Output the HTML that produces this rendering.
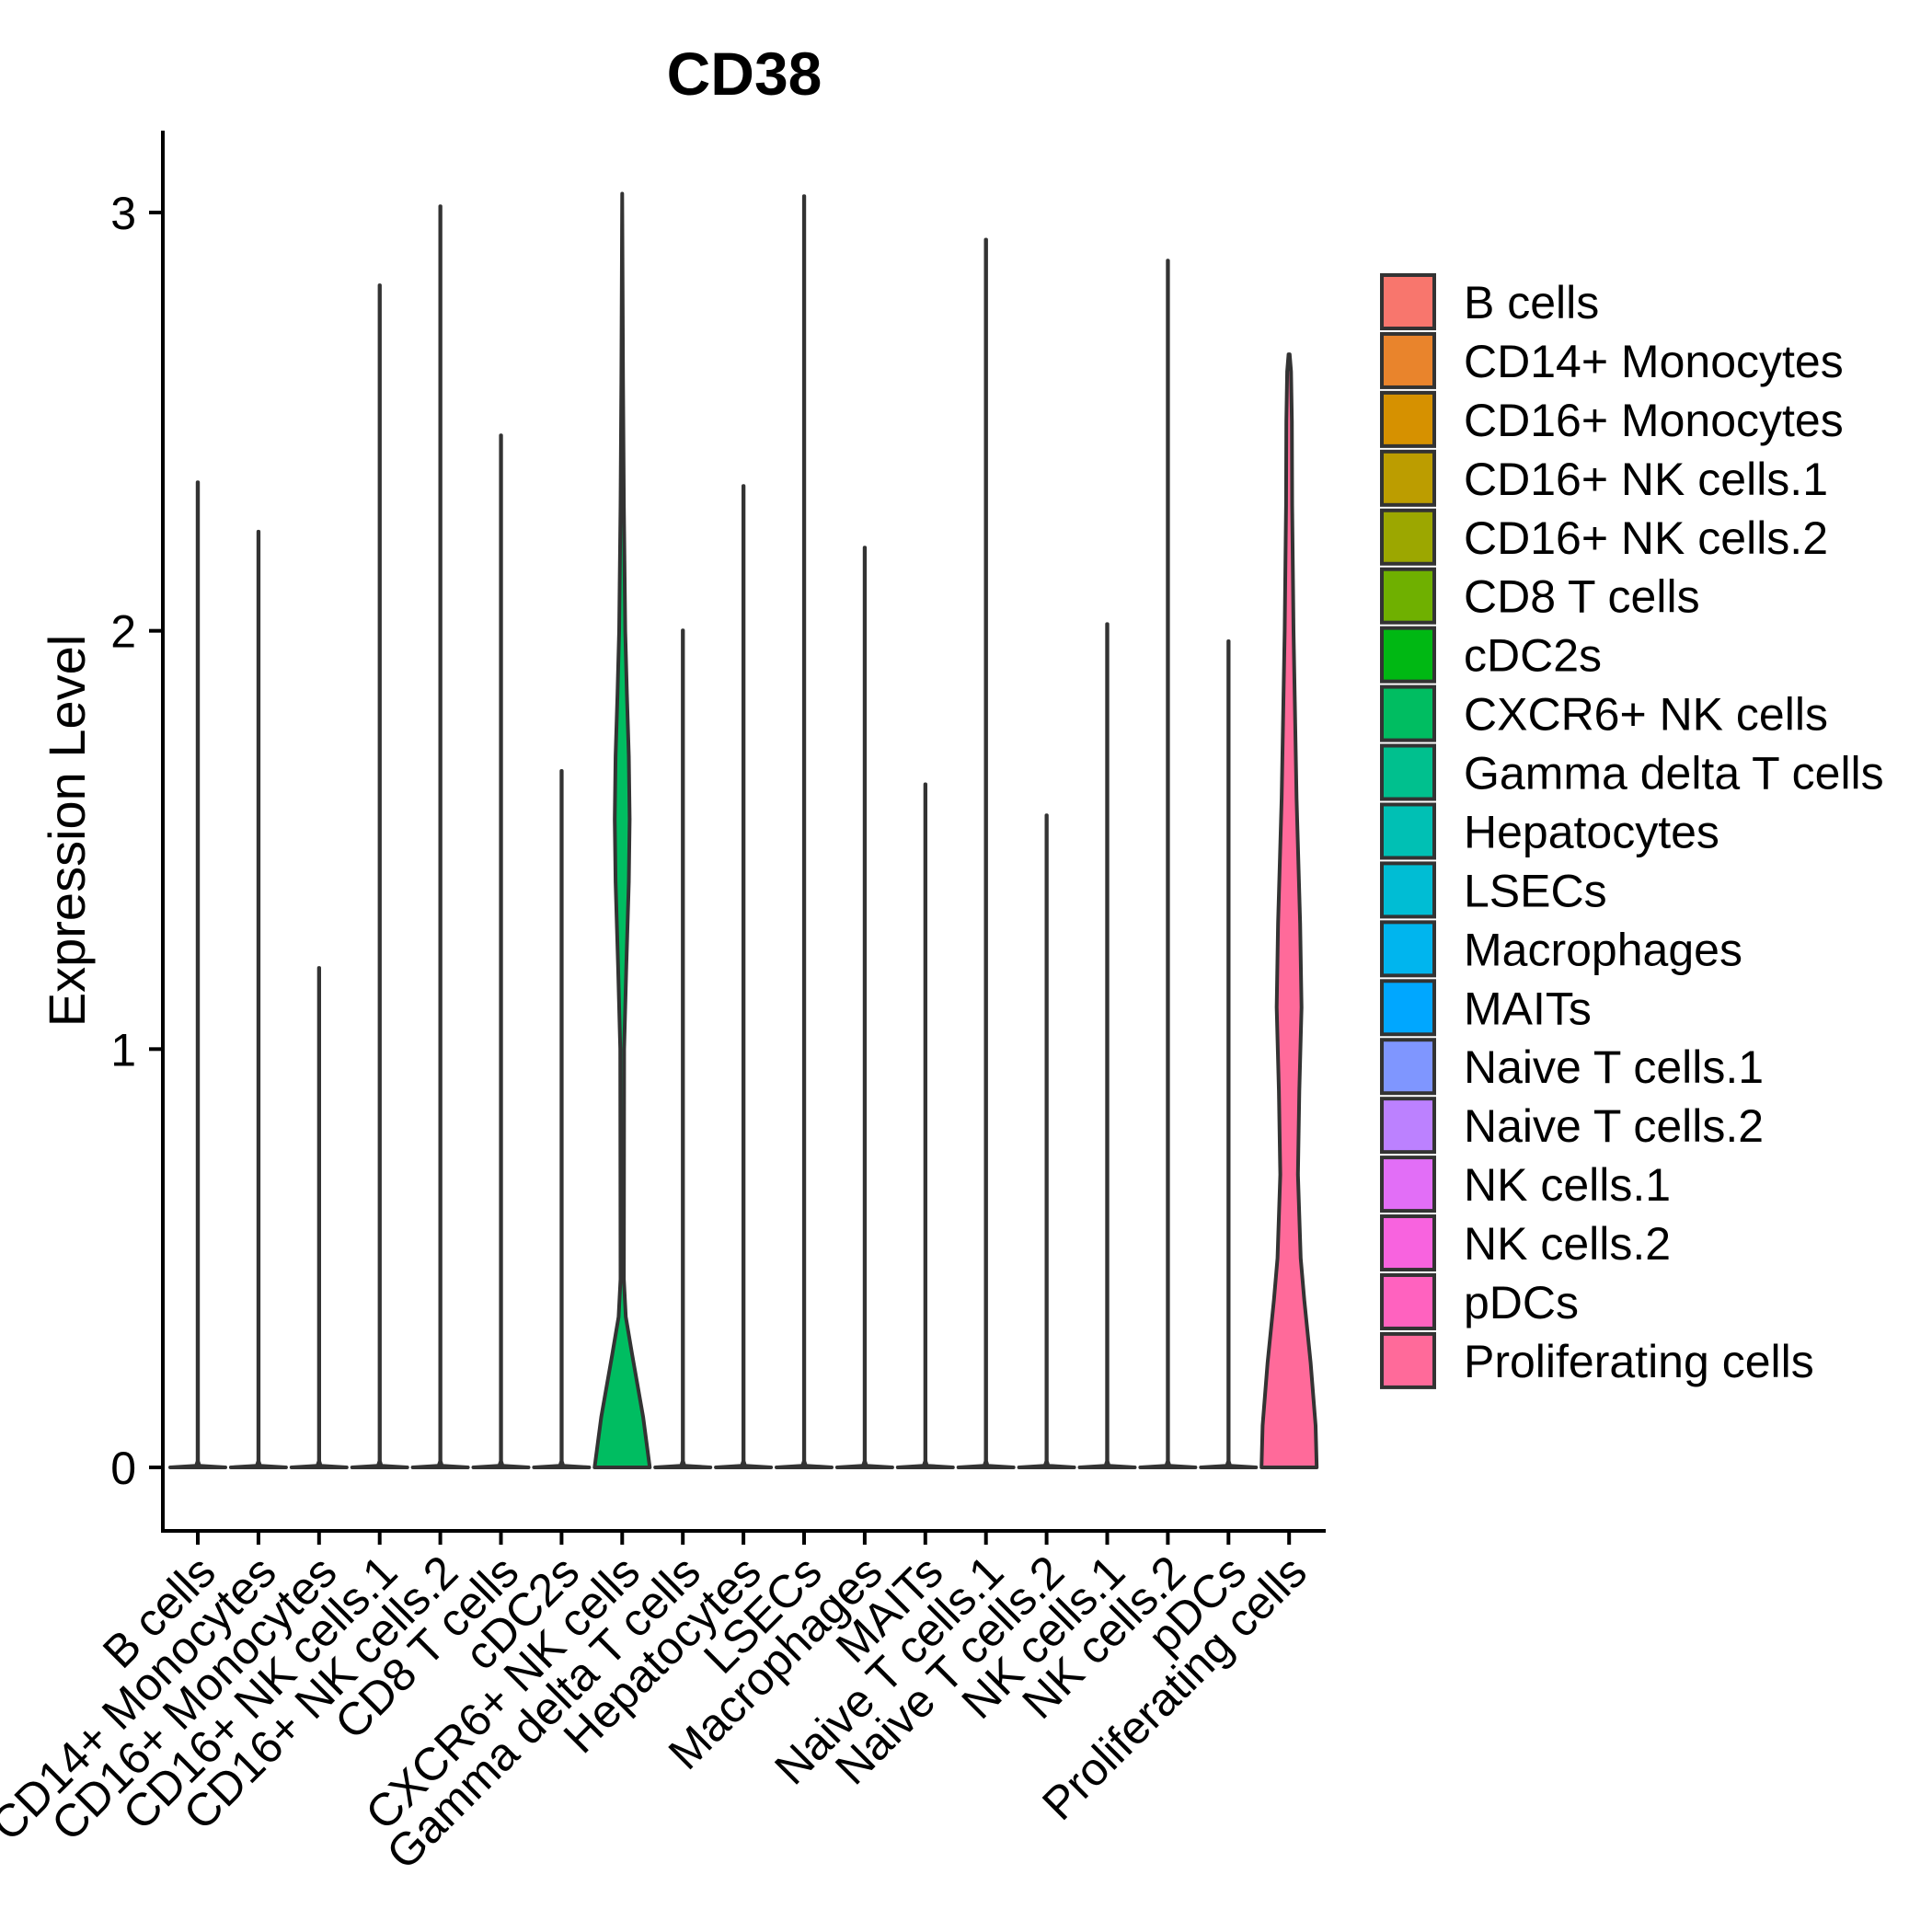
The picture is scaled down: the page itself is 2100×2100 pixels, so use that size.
<!DOCTYPE html>
<html><head><meta charset="utf-8"><style>
html,body{margin:0;padding:0;background:#fff;}
svg{display:block;font-family:"Liberation Sans",Arial,sans-serif;}
</style></head><body>
<svg id="chart" width="2100" height="2100" viewBox="0 0 2100 2100" xmlns="http://www.w3.org/2000/svg">
<rect width="2100" height="2100" fill="#fff"/>
<text x="809" y="103" font-size="66" font-weight="bold" text-anchor="middle">CD38</text>
<text transform="translate(92,903) rotate(-90)" font-size="56" text-anchor="middle">Expression Level</text>
<g id="violins"></g>
<g id="axes"></g>
<g id="legend"></g>
</svg>
<script>
const categories = ["B cells","CD14+ Monocytes","CD16+ Monocytes","CD16+ NK cells.1","CD16+ NK cells.2","CD8 T cells","cDC2s","CXCR6+ NK cells","Gamma delta T cells","Hepatocytes","LSECs","Macrophages","MAITs","Naive T cells.1","Naive T cells.2","NK cells.1","NK cells.2","pDCs","Proliferating cells"];
const maxValues = [2.355,2.237,1.194,2.826,3.015,2.467,1.665,3.045,2.001,2.346,3.039,2.199,1.633,2.935,1.559,2.016,2.885,1.975,2.661];
const colors = ["#F8766D","#E9842C","#D69100","#BC9D00","#9CA700","#6FB000","#00B813","#00BD61","#00C08E","#00C0B4","#00BDD4","#00B5EE","#00A7FF","#7F96FF","#BC81FF","#E26EF7","#F863DF","#FF62BF","#FF6A9A"];
const yTicks = [0,1,2,3];
// density profiles: [value, relative half-width]
const spikeProfile = [[0,1],[0.004,0.06],[0.015,0.005],[1,0.005]];
const cxcr6Profile = [[0,1],[0.12,0.76],[0.27,0.36],[0.36,0.13],[0.45,0.06],[1.0,0.07],[1.2,0.15],[1.4,0.24],[1.55,0.27],[1.7,0.24],[1.85,0.17],[2.0,0.11],[2.3,0.06],[2.6,0.03],[3.045,0]];
const prolifProfile = [[0,1],[0.1,0.96],[0.25,0.78],[0.4,0.55],[0.5,0.42],[0.7,0.32],[0.9,0.37],[1.1,0.45],[1.3,0.4],[1.6,0.27],[2.0,0.16],[2.3,0.11],[2.5,0.1],[2.62,0.07],[2.661,0.02]];

const NS = "http://www.w3.org/2000/svg";
const xPos = i => 215 + 65.9 * i;
const yPos = v => 1595 - 454.67 * v;
const maxHalf = 30;
function mk(tag, attrs, parent){const e=document.createElementNS(NS,tag);for(const k in attrs)e.setAttribute(k,attrs[k]);parent.appendChild(e);return e;}

const vg = document.getElementById('violins');
categories.forEach((c,i)=>{
  let prof;
  if(i===7) prof=cxcr6Profile; else if(i===18) prof=prolifProfile;
  else prof=spikeProfile.map(p=>p[0]===1?[maxValues[i],p[1]]:p);
  const cx=xPos(i);
  const right=prof.map(p=>[cx+p[1]*maxHalf+0.001,yPos(Math.min(p[0],maxValues[i]))]);
  const left=prof.slice().reverse().map(p=>[cx-p[1]*maxHalf,yPos(Math.min(p[0],maxValues[i]))]);
  const pts=right.concat(left);
  let d="M"+pts.map(p=>p[0].toFixed(1)+","+p[1].toFixed(1)).join(" L")+" Z";
  const path=mk('path',{d:d,fill:colors[i],stroke:'#333','stroke-width':4,'stroke-linejoin':'round'},vg);
  
  
});

const ag = document.getElementById('axes');
const yl=mk('line',{x1:177,y1:142,x2:177,y2:1666,stroke:'#000','stroke-width':4},ag);


const xl=mk('line',{x1:175,y1:1664,x2:1441,y2:1664,stroke:'#000','stroke-width':4},ag);


yTicks.forEach(t=>{
  const y=yPos(t);
  const tk=mk('line',{x1:162,y1:y,x2:177,y2:y,stroke:'#000','stroke-width':4},ag);
  
  
  const tx=mk('text',{x:148,y:y+18,'font-size':50,'text-anchor':'end'},ag);
  tx.textContent=t;
  
  
});
categories.forEach((c,i)=>{
  const x=xPos(i);
  const tk=mk('line',{x1:x,y1:1664,x2:x,y2:1679,stroke:'#000','stroke-width':4},ag);
  
  
  const tx=mk('text',{transform:`translate(${x+22},${1712}) rotate(-45)`,'font-size':50,'text-anchor':'end'},ag);
  tx.textContent=c;
  
  
});

const lg=document.getElementById('legend');
categories.forEach((c,i)=>{
  const top=297+63.94*i;
  const r=mk('rect',{x:1502,y:top+2,width:57,height:58,fill:colors[i],stroke:'#333','stroke-width':4},lg);
  
  
  const t=mk('text',{x:1591,y:top+49,'font-size':50},lg);
  t.textContent=c;
  
  
});
</script>
</body></html>
